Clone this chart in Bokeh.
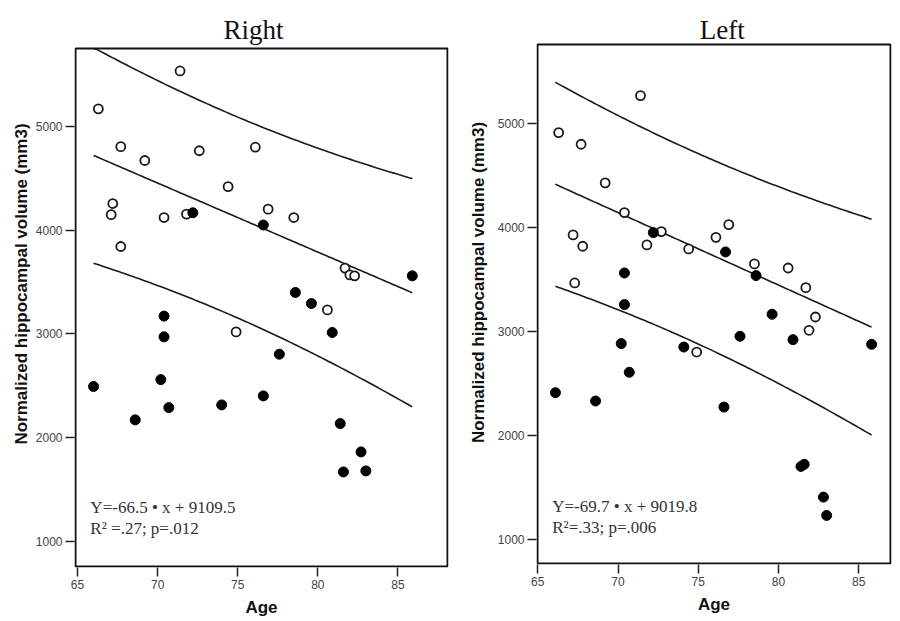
import numpy as np
from bokeh.plotting import figure
from bokeh.layouts import row
from bokeh.models import Range1d, Label, FixedTicker, BoxAnnotation
from bokeh.embed import file_html
from bokeh.resources import INLINE

# ---- data: Right hippocampus ----
right_open_age = [66.3, 71.4, 67.7, 69.2, 72.6, 76.1, 74.4, 67.2, 67.1, 70.4,
                  71.8, 76.9, 78.5, 67.7, 81.7, 82.0, 82.3, 80.6, 74.9]
right_open_vol = [5170, 5535, 4805, 4672, 4766, 4800, 4420, 4257, 4150, 4122,
                  4155, 4203, 4122, 3843, 3635, 3570, 3560, 3232, 3020]
right_filled_age = [72.2, 76.6, 85.9, 78.6, 79.6, 70.4, 70.4, 80.9, 77.6, 66.0,
                    70.2, 70.7, 74.0, 76.6, 68.6, 81.4, 82.7, 81.6, 83.0]
right_filled_vol = [4168, 4050, 3560, 3400, 3293, 3172, 2972, 3014, 2805, 2493,
                    2560, 2290, 2316, 2403, 2172, 2136, 1863, 1670, 1680]
right_slope, right_intercept = -66.5, 9109.5
# prediction band: half-width at its narrowest, centre age, spread
right_band = (968, 74.35, 21.4)

# ---- data: Left hippocampus ----
left_open_age = [71.4, 66.3, 67.7, 69.2, 70.4, 72.7, 67.2, 67.8, 71.8, 74.4,
                 76.1, 76.9, 78.5, 80.6, 81.7, 67.3, 82.3, 81.9, 74.9]
left_open_vol = [5266, 4910, 4798, 4426, 4141, 3958, 3926, 3817, 3830, 3791,
                 3903, 4025, 3647, 3608, 3419, 3464, 3137, 3009, 2800]
left_filled_age = [72.2, 76.7, 78.6, 70.4, 70.4, 79.6, 70.2, 77.6, 80.9, 85.8,
                   74.1, 70.7, 66.1, 68.6, 76.6, 81.4, 81.6, 82.8, 83.0]
left_filled_vol = [3948, 3762, 3535, 3560, 3256, 3163, 2881, 2951, 2919, 2874,
                   2848, 2605, 2409, 2329, 2271, 1700, 1720, 1405, 1229]
left_slope, left_intercept = -69.7, 9019.8
left_band = (915, 74.35, 21.4)

x_ticks = [65, 70, 75, 80, 85]
y_ticks = [1000, 2000, 3000, 4000, 5000]


def make_panel(title, open_age, open_vol, filled_age, filled_vol, slope, intercept,
               band, eq_text, r2_text, xr, yr, box_top, frame_w, frame_h, bl, br, bb,
               ylab_standoff, title_x, title_y, txt_x, txt_y1, txt_y2):
    # the frame reaches the top of the canvas; the visible plot box ends at box_top,
    # leaving room above it for the panel title
    p = figure(width=bl + frame_w + br, height=frame_h + bb,
               frame_width=frame_w, frame_height=frame_h,
               min_border_left=bl, min_border_right=br,
               min_border_top=0, min_border_bottom=bb,
               x_range=Range1d(*xr), y_range=Range1d(*yr),
               output_backend="svg", toolbar_location=None)

    p.grid.visible = False
    p.outline_line_color = None
    p.background_fill_color = "white"
    p.border_fill_color = "white"
    # box edges sit one pixel inside the frame so the 2px stroke is not clipped
    px_x = (xr[1] - xr[0]) / frame_w
    px_y = (yr[1] - yr[0]) / frame_h
    p.add_layout(BoxAnnotation(left=xr[0] + px_x, right=xr[1] - px_x,
                               bottom=yr[0] + px_y, top=box_top,
                               fill_alpha=0, fill_color=None,
                               line_color="#111111", line_alpha=1.0,
                               line_width=2, level="overlay"))

    for ax in (p.xaxis[0], p.yaxis[0]):
        ax.axis_line_color = None
        ax.major_tick_line_color = "#222222"
        ax.major_tick_line_width = 1.5
        ax.major_tick_out = 9
        ax.major_tick_in = 0
        ax.minor_tick_line_color = None
        ax.major_label_text_font = "Liberation Sans"
        ax.major_label_text_font_size = "12px"
        ax.major_label_text_color = "#444444"
        ax.major_label_standoff = 3
        ax.axis_label_text_font = "Liberation Sans"
        ax.axis_label_text_font_style = "bold"
        ax.axis_label_text_font_size = "17px"
        ax.axis_label_text_color = "#111111"
    p.xaxis.ticker = FixedTicker(ticks=x_ticks)
    p.yaxis.ticker = FixedTicker(ticks=y_ticks)
    p.xaxis.axis_label = "Age"
    p.xaxis.axis_label_standoff = 6
    p.yaxis.axis_label = "Normalized hippocampal volume (mm3)"
    p.yaxis.axis_label_standoff = ylab_standoff

    # panel title
    p.add_layout(Label(x=title_x, y=title_y, text=title, text_font="Liberation Serif",
                       text_font_size="27px", text_color="#111111",
                       text_align="center", text_baseline="alphabetic"))

    # regression line with prediction band
    ages = np.array(open_age + filled_age, dtype=float)
    xs = np.linspace(ages.min(), ages.max(), 100)
    fit = slope * xs + intercept
    hw0, xc, spread = band
    hw = hw0 * np.sqrt(1 + ((xs - xc) / spread) ** 2)
    upper = np.minimum(fit + hw, box_top)
    for yy in (fit, upper, fit - hw):
        p.line(xs, yy, line_color="#1a1a1a", line_width=1.6)

    p.scatter(open_age, open_vol, marker="circle", size=9, fill_color="white",
              line_color="#1a1a1a", line_width=1.8)
    p.scatter(filled_age, filled_vol, marker="circle", size=10, fill_color="black",
              line_color="black", line_width=1)

    for txt, yy in ((eq_text, txt_y1), (r2_text, txt_y2)):
        p.add_layout(Label(x=txt_x, y=yy, text=txt, text_font="Liberation Serif",
                           text_font_size="17px", text_color="#333333",
                           text_baseline="middle", text_align="left"))
    return p


p1 = make_panel("Right", right_open_age, right_open_vol, right_filled_age, right_filled_vol,
                right_slope, right_intercept, right_band,
                "Y=-66.5 \u2022 x + 9109.5", "R\u00b2 =.27; p=.012",
                (64.81, 88.16), (749, 6214), 5752, 374, 567, 74, 2, 53,
                2, 75.98, 5925, 65.8, 1325, 1122)
p2 = make_panel("Left", left_open_age, left_open_vol, left_filled_age, left_filled_vol,
                left_slope, left_intercept, left_band,
                "Y=-69.7 \u2022 x + 9019.8", "R\u00b2=.33; p=.006",
                (64.92, 87.04), (757, 6180), 5757, 355, 564, 86, 1, 56,
                7, 76.49, 5898, 65.9, 1310, 1115)

layout = row(p1, p2)
open("out.html", "w").write(file_html(layout, INLINE))
